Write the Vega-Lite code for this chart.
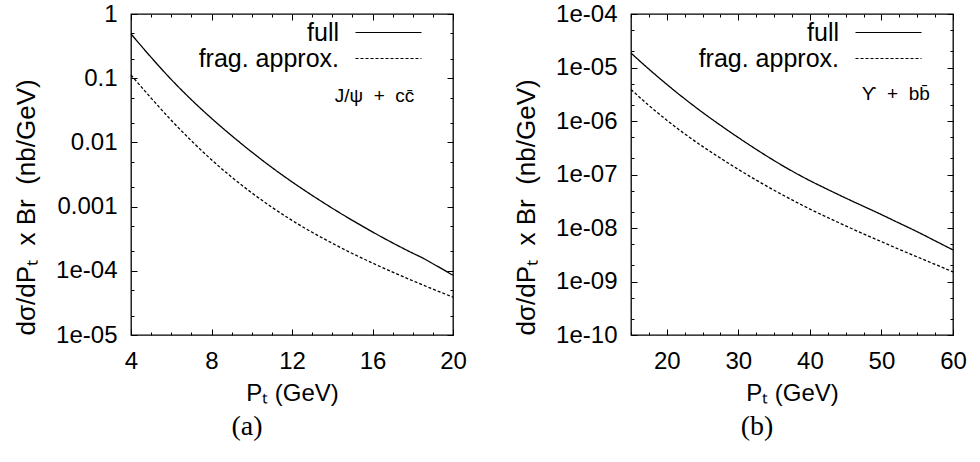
{
  "$schema": "https://vega.github.io/schema/vega-lite/v6.json",
  "autosize": {"type": "pad"},
  "padding": {"left": 12, "top": 1, "right": 5, "bottom": 5},
  "background": "white",
  "bounds": "flush",
  "spacing": 178,
  "config": {
    "view": {"stroke": "black", "strokeWidth": 1.3},
    "axis": {
      "domain": false, "grid": false,
      "labelFont": "Liberation Sans", "labelFontSize": 24, "labelColor": "black",
      "titleFont": "Liberation Sans", "titleFontSize": 24, "titleFontWeight": "normal", "titleColor": "black",
      "tickColor": "black", "tickWidth": 1
    },
    "legend": {
      "orient": "none", "legendX": 54, "legendY": 6, "title": null, "padding": 0,
      "symbolType": "M-3,0H3", "symbolSize": 484, "symbolStrokeWidth": 1.2, "symbolStrokeColor": "black",
      "labelFont": "Liberation Sans", "labelFontSize": 25, "labelColor": "black", "labelAlign": "right",
      "symbolOffset": 191, "labelOffset": -62, "rowPadding": 0, "labelLimit": 400
    },
    "title": {"font": "Liberation Serif", "fontSize": 28, "fontWeight": "normal", "color": "black"}
  },
  "datasets": {
    "panelA": [
      {"pt": 4, "val": 0.4898, "series": "full"},
      {"pt": 5, "val": 0.2113, "series": "full"},
      {"pt": 6, "val": 0.0955, "series": "full"},
      {"pt": 7, "val": 0.04624, "series": "full"},
      {"pt": 8, "val": 0.02371, "series": "full"},
      {"pt": 9, "val": 0.01274, "series": "full"},
      {"pt": 10, "val": 0.00708, "series": "full"},
      {"pt": 11, "val": 0.00407, "series": "full"},
      {"pt": 12, "val": 0.002427, "series": "full"},
      {"pt": 13, "val": 0.001496, "series": "full"},
      {"pt": 14, "val": 0.000944, "series": "full"},
      {"pt": 15, "val": 0.00061, "series": "full"},
      {"pt": 16, "val": 0.000403, "series": "full"},
      {"pt": 17, "val": 0.000272, "series": "full"},
      {"pt": 18, "val": 0.000188, "series": "full"},
      {"pt": 18.5, "val": 0.000158, "series": "full"},
      {"pt": 19, "val": 0.000129, "series": "full"},
      {"pt": 19.5, "val": 0.000105, "series": "full"},
      {"pt": 20, "val": 0.0000851, "series": "full"},
      {"pt": 4, "val": 0.1122, "series": "frag. approx."},
      {"pt": 5, "val": 0.049, "series": "frag. approx."},
      {"pt": 6, "val": 0.02213, "series": "frag. approx."},
      {"pt": 7, "val": 0.01059, "series": "frag. approx."},
      {"pt": 8, "val": 0.00537, "series": "frag. approx."},
      {"pt": 9, "val": 0.002884, "series": "frag. approx."},
      {"pt": 10, "val": 0.00164, "series": "frag. approx."},
      {"pt": 11, "val": 0.000977, "series": "frag. approx."},
      {"pt": 12, "val": 0.00061, "series": "frag. approx."},
      {"pt": 13, "val": 0.000398, "series": "frag. approx."},
      {"pt": 14, "val": 0.000269, "series": "frag. approx."},
      {"pt": 15, "val": 0.000186, "series": "frag. approx."},
      {"pt": 16, "val": 0.000132, "series": "frag. approx."},
      {"pt": 17, "val": 0.0000955, "series": "frag. approx."},
      {"pt": 18, "val": 0.00007, "series": "frag. approx."},
      {"pt": 19, "val": 0.0000519, "series": "frag. approx."},
      {"pt": 20, "val": 0.0000389, "series": "frag. approx."}
    ],
    "panelB": [
      {"pt": 15, "val": 1.862e-5, "series": "full"},
      {"pt": 17.5, "val": 9.33e-6, "series": "full"},
      {"pt": 20, "val": 4.84e-6, "series": "full"},
      {"pt": 22.5, "val": 2.6e-6, "series": "full"},
      {"pt": 25, "val": 1.445e-6, "series": "full"},
      {"pt": 27.5, "val": 8.32e-7, "series": "full"},
      {"pt": 30, "val": 4.9e-7, "series": "full"},
      {"pt": 32.5, "val": 2.95e-7, "series": "full"},
      {"pt": 35, "val": 1.82e-7, "series": "full"},
      {"pt": 37.5, "val": 1.16e-7, "series": "full"},
      {"pt": 40, "val": 7.67e-8, "series": "full"},
      {"pt": 42.5, "val": 5.25e-8, "series": "full"},
      {"pt": 45, "val": 3.63e-8, "series": "full"},
      {"pt": 47.5, "val": 2.54e-8, "series": "full"},
      {"pt": 50, "val": 1.78e-8, "series": "full"},
      {"pt": 52.5, "val": 1.23e-8, "series": "full"},
      {"pt": 55, "val": 8.51e-9, "series": "full"},
      {"pt": 57.5, "val": 5.75e-9, "series": "full"},
      {"pt": 60, "val": 3.89e-9, "series": "full"},
      {"pt": 15, "val": 3.89e-6, "series": "frag. approx."},
      {"pt": 17.5, "val": 1.95e-6, "series": "frag. approx."},
      {"pt": 20, "val": 1.035e-6, "series": "frag. approx."},
      {"pt": 22.5, "val": 5.75e-7, "series": "frag. approx."},
      {"pt": 25, "val": 3.35e-7, "series": "frag. approx."},
      {"pt": 27.5, "val": 2.02e-7, "series": "frag. approx."},
      {"pt": 30, "val": 1.245e-7, "series": "frag. approx."},
      {"pt": 32.5, "val": 7.85e-8, "series": "frag. approx."},
      {"pt": 35, "val": 5.07e-8, "series": "frag. approx."},
      {"pt": 37.5, "val": 3.35e-8, "series": "frag. approx."},
      {"pt": 40, "val": 2.26e-8, "series": "frag. approx."},
      {"pt": 42.5, "val": 1.567e-8, "series": "frag. approx."},
      {"pt": 45, "val": 1.096e-8, "series": "frag. approx."},
      {"pt": 47.5, "val": 7.76e-9, "series": "frag. approx."},
      {"pt": 50, "val": 5.56e-9, "series": "frag. approx."},
      {"pt": 52.5, "val": 3.98e-9, "series": "frag. approx."},
      {"pt": 55, "val": 2.88e-9, "series": "frag. approx."},
      {"pt": 57.5, "val": 2.09e-9, "series": "frag. approx."},
      {"pt": 60, "val": 1.51e-9, "series": "frag. approx."}
    ],
    "noteA": [{"pt": 18.08, "val": 0.0525, "label": "J/ψ\u00a0\u00a0+\u00a0\u00a0cc̄"}],
    "noteB": [{"pt": 56.76, "val": 3.2e-6, "label": "ϒ\u00a0\u00a0+\u00a0\u00a0bb̄"}]
  },
  "resolve": {"scale": {"strokeDash": "independent"}, "legend": {"strokeDash": "independent"}},
  "hconcat": [
    {
      "width": 322, "height": 321,
      "title": {"text": "(a)", "orient": "bottom", "anchor": "middle", "dx": -45, "offset": 8},
      "layer": [
        {
          "data": {"name": "panelA"},
          "mark": {"type": "line", "color": "black", "strokeWidth": 1.3, "interpolate": "monotone"},
          "encoding": {
            "x": {"field": "pt", "type": "quantitative",
              "scale": {"domain": [4, 20], "nice": false, "zero": false},
              "axis": {"orient": "bottom", "title": "Pₜ (GeV)", "values": [4,5,6,7,8,9,10,11,12,13,14,15,16,17,18,19,20],
                "labelExpr": "datum.value % 4 == 0 ? datum.label : ''",
                "tickSize": {"condition": {"test": "datum.value % 4 == 0", "value": -6}, "value": -3},
                "labelPadding": 20, "titlePadding": 8, "labelFlush": false}},
            "y": {"field": "val", "type": "quantitative",
              "scale": {"type": "log", "domain": [0.00001, 1], "nice": false},
              "axis": {"orient": "left", "title": "dσ/dPₜ\u00a0\u00a0x Br\u00a0\u00a0(nb/GeV)", "titleFontSize": 26, "titleAnchor": "start",
                "values": [0.00001,0.00002,0.00005,0.0001,0.0002,0.0005,0.001,0.002,0.005,0.01,0.02,0.05,0.1,0.2,0.5,1],
                "labelExpr": "(abs(log(datum.value)/LN10 - round(log(datum.value)/LN10)) > 0.01) ? '' : (datum.value > 0.0005 ? format(datum.value, '') : '1e-' + (round(-log(datum.value)/LN10) < 10 ? '0' : '') + round(-log(datum.value)/LN10))",
                "tickSize": {"condition": {"test": "abs(log(datum.value)/LN10 - round(log(datum.value)/LN10)) < 0.01", "value": -6}, "value": -3},
                "labelPadding": 20, "titlePadding": 16, "labelFlush": false}},
            "strokeDash": {"field": "series", "type": "nominal",
              "scale": {"domain": ["full", "frag. approx."], "range": [[1, 0], [3, 2]]}}
          }
        },
        {
          "data": {"name": "noteA"},
          "mark": {"type": "text", "align": "right", "baseline": "middle", "font": "Liberation Sans", "fontSize": 19, "color": "black"},
          "encoding": {
            "x": {"field": "pt", "type": "quantitative",
              "axis": {"orient": "top", "title": null, "labels": false, "values": [4,5,6,7,8,9,10,11,12,13,14,15,16,17,18,19,20],
                "tickSize": {"condition": {"test": "datum.value % 4 == 0", "value": -6}, "value": -3}}},
            "y": {"field": "val", "type": "quantitative",
              "axis": {"orient": "right", "title": null, "labels": false,
                "values": [0.00001,0.00002,0.00005,0.0001,0.0002,0.0005,0.001,0.002,0.005,0.01,0.02,0.05,0.1,0.2,0.5,1],
                "tickSize": {"condition": {"test": "abs(log(datum.value)/LN10 - round(log(datum.value)/LN10)) < 0.01", "value": -6}, "value": -3}}},
            "text": {"field": "label"}
          }
        }
      ],
      "resolve": {"axis": {"x": "independent", "y": "independent"}}
    },
    {
      "width": 322, "height": 321,
      "title": {"text": "(b)", "orient": "bottom", "anchor": "middle", "dx": -35, "offset": 8},
      "layer": [
        {
          "data": {"name": "panelB"},
          "mark": {"type": "line", "color": "black", "strokeWidth": 1.3, "interpolate": "monotone"},
          "encoding": {
            "x": {"field": "pt", "type": "quantitative",
              "scale": {"domain": [15, 60], "nice": false, "zero": false},
              "axis": {"orient": "bottom", "title": "Pₜ (GeV)", "values": [15,17.5,20,22.5,25,27.5,30,32.5,35,37.5,40,42.5,45,47.5,50,52.5,55,57.5,60],
                "labelExpr": "datum.value % 10 == 0 ? datum.label : ''",
                "tickSize": {"condition": {"test": "datum.value % 10 == 0", "value": -6}, "value": -3},
                "labelPadding": 20, "titlePadding": 8, "labelFlush": false}},
            "y": {"field": "val", "type": "quantitative",
              "scale": {"type": "log", "domain": [1e-10, 1e-4], "nice": false},
              "axis": {"orient": "left", "title": "dσ/dPₜ\u00a0\u00a0x Br\u00a0\u00a0(nb/GeV)", "titleFontSize": 26, "titleAnchor": "start",
                "values": [1e-10,2e-10,5e-10,1e-9,2e-9,5e-9,1e-8,2e-8,5e-8,1e-7,2e-7,5e-7,1e-6,2e-6,5e-6,1e-5,2e-5,5e-5,1e-4],
                "labelExpr": "(abs(log(datum.value)/LN10 - round(log(datum.value)/LN10)) > 0.01) ? '' : '1e-' + (round(-log(datum.value)/LN10) < 10 ? '0' : '') + round(-log(datum.value)/LN10)",
                "tickSize": {"condition": {"test": "abs(log(datum.value)/LN10 - round(log(datum.value)/LN10)) < 0.01", "value": -6}, "value": -3},
                "labelPadding": 20, "titlePadding": 16, "labelFlush": false}},
            "strokeDash": {"field": "series", "type": "nominal",
              "scale": {"domain": ["full", "frag. approx."], "range": [[1, 0], [3, 2]]}}
          }
        },
        {
          "data": {"name": "noteB"},
          "mark": {"type": "text", "align": "right", "baseline": "middle", "font": "Liberation Sans", "fontSize": 19, "color": "black"},
          "encoding": {
            "x": {"field": "pt", "type": "quantitative",
              "axis": {"orient": "top", "title": null, "labels": false, "values": [15,17.5,20,22.5,25,27.5,30,32.5,35,37.5,40,42.5,45,47.5,50,52.5,55,57.5,60],
                "tickSize": {"condition": {"test": "datum.value % 10 == 0", "value": -6}, "value": -3}}},
            "y": {"field": "val", "type": "quantitative",
              "axis": {"orient": "right", "title": null, "labels": false,
                "values": [1e-10,2e-10,5e-10,1e-9,2e-9,5e-9,1e-8,2e-8,5e-8,1e-7,2e-7,5e-7,1e-6,2e-6,5e-6,1e-5,2e-5,5e-5,1e-4],
                "tickSize": {"condition": {"test": "abs(log(datum.value)/LN10 - round(log(datum.value)/LN10)) < 0.01", "value": -6}, "value": -3}}},
            "text": {"field": "label"}
          }
        }
      ],
      "resolve": {"axis": {"x": "independent", "y": "independent"}}
    }
  ]
}
